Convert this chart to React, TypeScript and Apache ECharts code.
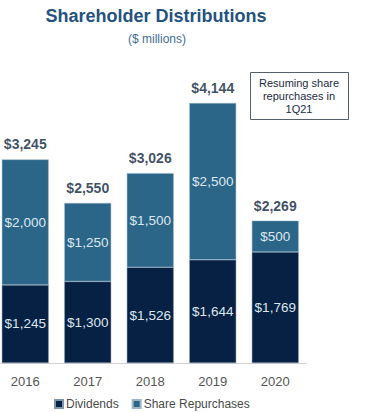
import React, { useEffect, useRef } from "react";
import * as echarts from "echarts";

const years = ["2016", "2017", "2018", "2019", "2020"];
const dividends = [1245, 1300, 1526, 1644, 1769];
const repurchases = [2000, 1250, 1500, 2500, 500];
const totals = [3245, 2550, 3026, 4144, 2269];

const fmt = (v: number) => "$" + v.toLocaleString("en-US");

export default function App() {
  const ref = useRef<HTMLDivElement>(null);
  useEffect(() => {
    document.body.style.margin = "0";
    const chart = echarts.init(ref.current!, null, { renderer: "svg" });
    const font = "Liberation Sans";
    chart.setOption({
      animation: false,
      textStyle: { fontFamily: font },
      title: [
        {
          text: "Shareholder Distributions",
          left: 151,
          top: 2,
          textAlign: "center",
          textStyle: { fontSize: 18, fontWeight: "bold", color: "#24527f", fontFamily: font },
        },
        {
          text: "($ millions)",
          left: 152,
          top: 28,
          textAlign: "center",
          textStyle: { fontSize: 12, fontWeight: "normal", color: "#3f6b96", fontFamily: font },
        },
      ],
      graphic: [
        {
          type: "rect",
          shape: { x: 250.5, y: 72.5, width: 98, height: 47 },
          style: { fill: "#fff", stroke: "#55606c", lineWidth: 1 },
        },
        {
          type: "text",
          x: 299,
          y: 96,
          style: {
            text: "Resuming share\nrepurchases in\n1Q21",
            fontSize: 11,
            lineHeight: 13,
            fill: "#1b2b44",
            align: "center",
            verticalAlign: "middle",
            fontFamily: font,
          },
        },
      ],
      legend: {
        data: ["Dividends", "Share Repurchases"],
        left: 54,
        top: 398,
        padding: 0,
        itemWidth: 8,
        itemHeight: 8,
        itemGap: 13,
        icon: "rect",
        textStyle: { fontSize: 12, color: "#4a4a4a", fontFamily: font, padding: [0, 0, 0, -2] },
      },
      grid: { left: -6, width: 312.5, top: 103, height: 260, outerBoundsMode: "none" },
      xAxis: {
        type: "category",
        data: years,
        axisLine: { lineStyle: { color: "#d0d0d0", width: 1 } },
        axisTick: { show: false },
        axisLabel: { fontSize: 13, color: "#555", margin: 12, fontFamily: font },
      },
      yAxis: { type: "value", min: 0, max: 4144, show: false, splitLine: { show: false } },
      series: [
        {
          name: "Dividends",
          type: "bar",
          stack: "t",
          data: dividends,
          barWidth: "75%",
          itemStyle: { color: "#062143", borderColor: "#7f95ab", borderWidth: 0.5 },
          label: {
            show: true,
            position: "inside",
            formatter: (p: any) => fmt(p.value),
            fontSize: 13.5,
            color: "#dde6ee",
            fontFamily: font,
          },
        },
        {
          name: "Share Repurchases",
          type: "bar",
          stack: "t",
          data: repurchases,
          barWidth: "75%",
          itemStyle: { color: "#2b6689", borderColor: "#9cb6c8", borderWidth: 0.5 },
          label: {
            show: true,
            position: "inside",
            formatter: (p: any) => fmt(p.value),
            fontSize: 13.5,
            color: "#dde6ee",
            fontFamily: font,
          },
        },
        {
          name: "Total",
          type: "scatter",
          data: totals,
          symbolSize: 0,
          silent: true,
          label: {
            show: true,
            position: "top",
            distance: 8,
            formatter: (p: any) => fmt(p.value),
            fontSize: 14,
            fontWeight: "bold",
            color: "#0c1f3d",
            fontFamily: font,
          },
        },
      ],
    });
    return () => chart.dispose();
  }, []);
  return <div ref={ref} style={{ width: 389, height: 412 }} />;
}
